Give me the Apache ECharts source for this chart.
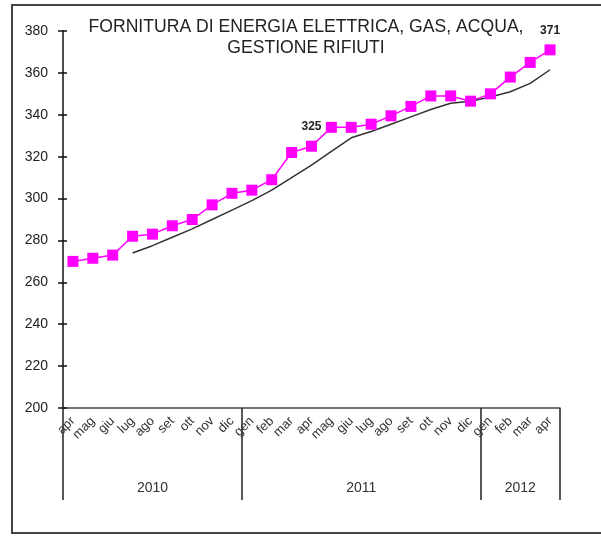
<!DOCTYPE html>
<html>
<head>
<meta charset="utf-8">
<script src="https://cdn.jsdelivr.net/npm/echarts@6/dist/echarts.min.js"></script>
<style>
  html, body { margin: 0; padding: 0; background: #fff; }
  #chart { width: 601px; height: 544px; }
</style>
</head>
<body>
<div id="chart"></div>
<script>
const months = ["apr", "mag", "giu", "lug", "ago", "set", "ott", "nov", "dic",
  "gen", "feb", "mar", "apr", "mag", "giu", "lug", "ago", "set", "ott", "nov", "dic",
  "gen", "feb", "mar", "apr"];
const years = ["2010", "2011", "2012"];
const monthsPerYear = [9, 12, 4];

// indice mensile
const indice = [270, 271.5, 273, 282, 283, 287, 290, 297, 302.5,
  304, 309, 322, 325, 334, 334, 335.5, 339.5, 344, 349, 349, 346.5,
  350, 358, 365, 371];
// linea di tendenza
const tendenza = [null, null, null, 274, 277.5, 281.5, 285.5, 290, 294.5,
  299, 304, 310, 316, 322.5, 329, 332, 335.5, 339, 342.5, 345.5, 346.5,
  348.5, 351, 355, 361.5];
const labelled = [12, 24];

// asse degli anni: mezzi mesi, confini e centri dei gruppi
const bounds = [0];
monthsPerYear.forEach(n => bounds.push(bounds[bounds.length - 1] + n * 2));
const yearSlots = [];
for (let k = 0; k <= bounds[bounds.length - 1]; k++) yearSlots.push("");
years.forEach((y, i) => { yearSlots[(bounds[i] + bounds[i + 1]) / 2] = y; });

const font = "Liberation Sans, Arial, sans-serif";
const chart = echarts.init(document.getElementById("chart"));
chart.setOption({
  animation: false,
  backgroundColor: "#fff",
  title: {
    text: "FORNITURA DI ENERGIA ELETTRICA, GAS, ACQUA,\nGESTIONE RIFIUTI",
    left: 306,
    top: 17,
    padding: 0,
    textAlign: "center",
    textStyle: { fontFamily: font, fontSize: 17.6, fontWeight: "normal", color: "#222", lineHeight: 21 }
  },
  graphic: [{
    type: "rect",
    shape: { x: 12, y: 5, width: 600, height: 528 },
    style: { fill: "none", stroke: "#444", lineWidth: 2 },
    silent: true
  }],
  grid: { left: 63, right: 41, top: 31, bottom: 136 },
  xAxis: [{
    type: "category",
    data: months,
    boundaryGap: true,
    axisLine: { lineStyle: { color: "#444", width: 1.5 } },
    axisTick: { show: false },
    axisLabel: { interval: 0, rotate: 45, margin: 11, fontFamily: font, fontSize: 13, color: "#333" }
  }, {
    type: "category",
    position: "bottom",
    offset: 0,
    data: yearSlots,
    boundaryGap: false,
    axisLine: { show: false },
    axisTick: {
      show: true,
      length: 92,
      interval: (index) => bounds.includes(index),
      lineStyle: { color: "#222", width: 1.5 }
    },
    axisLabel: { interval: 0, margin: 73, fontFamily: font, fontSize: 14, color: "#333" }
  }],
  yAxis: [{
    type: "value",
    min: 200,
    max: 380,
    interval: 20,
    splitLine: { show: false },
    axisLine: { show: true, lineStyle: { color: "#111", width: 1.5 } },
    axisTick: { show: true, length: 5, lineStyle: { color: "#111", width: 1.5 } },
    axisLabel: { margin: 15, fontFamily: font, fontSize: 14, color: "#222" }
  }, {
    // tacche interne, per incrociare l'asse
    type: "value",
    position: "left",
    offset: 0,
    min: 200,
    max: 380,
    interval: 20,
    splitLine: { show: false },
    axisLine: { show: false },
    axisTick: { show: true, inside: true, length: 4, lineStyle: { color: "#111", width: 1.5 } },
    axisLabel: { show: false }
  }],
  series: [{
    type: "line",
    data: tendenza,
    showSymbol: false,
    lineStyle: { color: "#333", width: 1.5 },
    z: 2
  }, {
    type: "line",
    data: indice.map((v, i) => labelled.includes(i)
      ? { value: v, label: { show: true } }
      : v),
    symbol: "rect",
    symbolSize: 11,
    itemStyle: { color: "#FF00FF" },
    lineStyle: { color: "#FF00FF", width: 1.5 },
    label: {
      show: false,
      position: "top",
      distance: 8,
      fontFamily: font,
      fontSize: 12,
      fontWeight: "bold",
      color: "#222"
    },
    z: 3
  }]
});
</script>
</body>
</html>
